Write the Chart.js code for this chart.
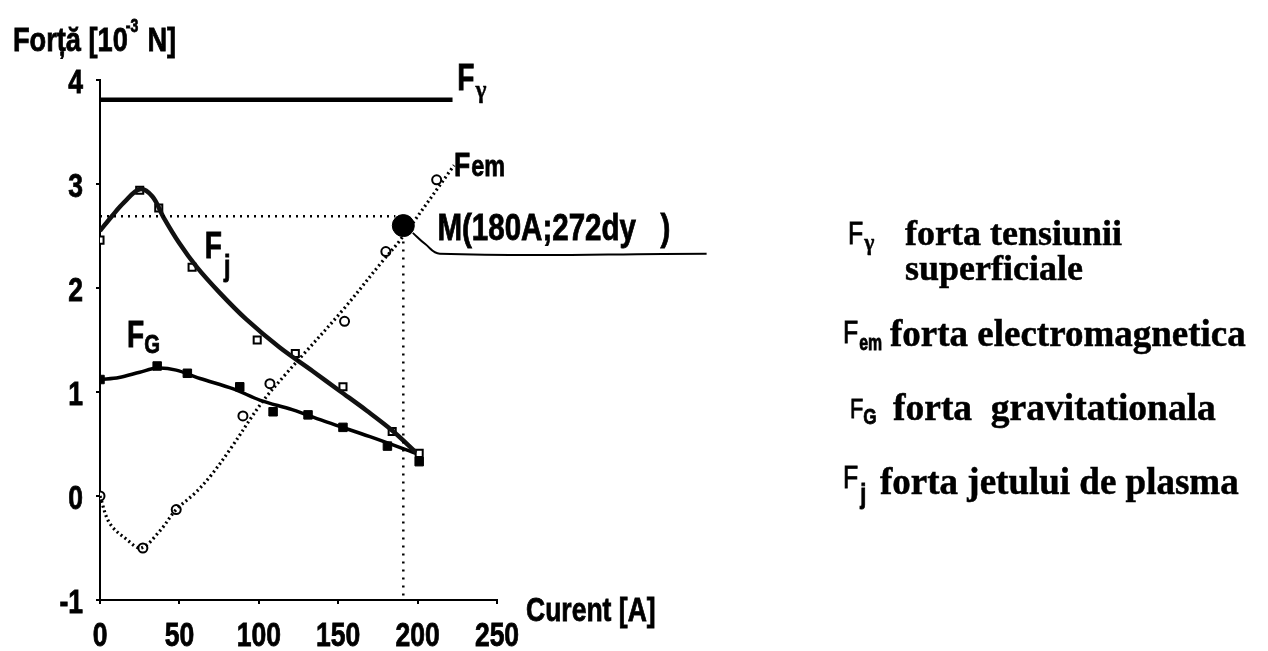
<!DOCTYPE html>
<html><head><meta charset="utf-8">
<script src="https://cdn.jsdelivr.net/npm/chart.js@4"></script>
<style>
html,body{margin:0;padding:0;background:#fff;overflow:hidden}
canvas{display:block}
</style></head>
<body>
<canvas id="c" width="1268" height="651"></canvas>
<script>
// ---------- data ----------
const xTicks = [0, 50, 100, 150, 200, 250];
const yTicks = [-1, 0, 1, 2, 3, 4];
const xTickLabels = ['0', '50', '100', '150', '200', '250'];
const yTickLabels = ['-1', '0', '1', '2', '3', '4'];

// F gamma (surface tension) - constant
const gammaX = [0, 222];
const gammaY = [3.81, 3.81];

// F em (electromagnetic) - measured points and drawn curve
const emX = [0, 27, 48, 90, 107, 154, 180, 212];
const emY = [0, -0.5, -0.13, 0.77, 1.08, 1.68, 2.35, 3.04];
const emCurveX = [0, 6, 17, 26, 38, 48, 60, 70, 82, 102, 118, 128, 153, 178, 189, 223];
const emCurveY = [0, -0.26, -0.42, -0.5, -0.33, -0.13, 0.03, 0.2, 0.45, 0.9, 1.19, 1.36, 1.79, 2.26, 2.46, 3.18];

// F j (plasma jet)
const jX = [0, 25, 37, 58, 99, 123, 153, 184, 201];
const jY = [2.46, 2.94, 2.77, 2.2, 1.5, 1.37, 1.05, 0.62, 0.41];
const jCurveX = [0, 8, 15, 25, 33, 40, 50, 61, 75, 92, 113, 134, 151, 168, 184, 199];
const jCurveY = [2.55, 2.7, 2.82, 2.95, 2.88, 2.68, 2.43, 2.2, 1.96, 1.7, 1.43, 1.2, 1.01, 0.82, 0.63, 0.42];

// F G (gravitational)
const gX = [0, 36, 55, 88, 109, 131, 153, 181, 201];
const gY = [1.12, 1.25, 1.18, 1.05, 0.81, 0.78, 0.66, 0.48, 0.33];
const gCurveX = [0, 12, 25, 36, 48, 63, 84, 101, 121, 143, 170, 199];
const gCurveY = [1.12, 1.14, 1.19, 1.23, 1.21, 1.13, 1.03, 0.92, 0.83, 0.71, 0.57, 0.41];

// point M and its guide lines / callout
const mPointX = [191];
const mPointY = [2.6];
const guideHX = [0, 186];
const guideHY = [2.69, 2.69];
const guideVX = [191, 191];
const guideVY = [2.6, -1];
const calloutX = [197, 205, 214, 382];
const calloutY = [2.53, 2.42, 2.33, 2.33];

// in-chart label anchors (data units)
const labelGamma = [225, 3.9];
const labelEm = [223, 3.08];
const labelJ = [66, 2.29];
const labelG = [17, 1.43];
const labelM = [212.5, 2.46];
const mText = 'M(180A;272dy   )';

// legend texts
const legendTexts = ['forta tensiunii', 'superficiale', 'forta electromagnetica', 'forta  gravitationala', 'forta jetului de plasma'];

// ---------- helpers ----------
const pts = (xs, ys) => xs.map((x, i) => ({x: x, y: ys[i]}));
const SANS = '"Liberation Sans", Arial, sans-serif';
const SERIF = '"Liberation Serif", "Times New Roman", serif';

function narrow(ctx, text, x, y, size, align, sx, weight) {
  sx = sx || 0.78;
  ctx.save();
  ctx.font = (weight || 'bold') + ' ' + size + 'px ' + SANS;
  const w = ctx.measureText(text).width * sx;
  let x0 = x;
  if (align === 'center') x0 = x - w / 2;
  else if (align === 'right') x0 = x - w;
  ctx.translate(x0, y);
  ctx.scale(sx, 1);
  ctx.textAlign = 'left';
  ctx.textBaseline = 'alphabetic';
  ctx.fillStyle = '#000';
  ctx.strokeStyle = '#000';
  ctx.lineWidth = 0.8;
  ctx.fillText(text, 0, 0);
  ctx.strokeText(text, 0, 0);
  ctx.restore();
  return w;
}
function serif(ctx, text, x, y, size, sx) {
  sx = sx || 1;
  ctx.save();
  ctx.font = 'bold ' + size + 'px ' + SERIF;
  ctx.translate(x, y);
  ctx.scale(sx, 1);
  ctx.textAlign = 'left';
  ctx.textBaseline = 'alphabetic';
  ctx.fillStyle = '#000';
  ctx.strokeStyle = '#000';
  ctx.lineWidth = 0.5;
  ctx.fillText(text, 0, 0);
  ctx.strokeText(text, 0, 0);
  ctx.restore();
}

const textPlugin = {
  id: 'texts',
  afterDraw(chart) {
    const ctx = chart.ctx;
    const xs = chart.scales.x, ys = chart.scales.y;
    const px = v => xs.getPixelForValue(v), py = v => ys.getPixelForValue(v);

    // tick labels
    xTicks.forEach((v, i) => narrow(ctx, xTickLabels[i], px(v), 646, 34, 'center'));
    yTicks.forEach((v, i) => narrow(ctx, yTickLabels[i], 83, py(v) + 13, 34, 'right'));

    // axis titles
    let x = 13;
    x += narrow(ctx, 'Forță [10', x, 51, 34, 'left', 0.8);
    narrow(ctx, '-3', x - 2, 32, 18, 'left');
    x += 12;
    narrow(ctx, ' N]', x, 51, 34, 'left', 0.8);
    narrow(ctx, 'Curent [A]', 526, 621, 34, 'left');

    // series labels
    let w;
    w = narrow(ctx, 'F', px(labelGamma[0]), py(labelGamma[1]), 36, 'left');
    serif(ctx, 'γ', px(labelGamma[0]) + w + 1, py(labelGamma[1]) + 8, 26, 0.9);

    w = narrow(ctx, 'F', px(labelEm[0]), py(labelEm[1]), 34, 'left');
    narrow(ctx, 'em', px(labelEm[0]) + w + 1, py(labelEm[1]), 30, 'left');

    w = narrow(ctx, 'F', px(labelJ[0]), py(labelJ[1]), 36, 'left');
    narrow(ctx, 'j', px(labelJ[0]) + w + 2, py(labelJ[1]) + 18, 30, 'left');

    w = narrow(ctx, 'F', px(labelG[0]), py(labelG[1]), 36, 'left');
    narrow(ctx, 'G', px(labelG[0]) + w, py(labelG[1]) + 6, 26, 'left');

    narrow(ctx, mText, px(labelM[0]), py(labelM[1]), 36, 'left', 0.82);

    // legend
    w = narrow(ctx, 'F', 848, 244, 32, 'left', 0.78, 'normal');
    serif(ctx, 'γ', 848 + w + 1, 250, 24, 0.9);
    serif(ctx, legendTexts[0], 905, 245, 36);
    serif(ctx, legendTexts[1], 905, 280, 36);

    w = narrow(ctx, 'F', 843, 343, 32, 'left', 0.78, 'normal');
    narrow(ctx, 'em', 843 + w + 1, 350, 22, 'left', 0.72);
    serif(ctx, legendTexts[2], 890, 346, 37);

    w = narrow(ctx, 'F', 850, 418, 28, 'left', 0.78, 'normal');
    narrow(ctx, 'G', 850 + w, 424, 22, 'left');
    serif(ctx, legendTexts[3], 893, 420, 37.5);

    w = narrow(ctx, 'F', 843, 488, 32, 'left', 0.78, 'normal');
    narrow(ctx, 'j', 843 + w + 2, 503, 28, 'left');
    serif(ctx, legendTexts[4], 880, 494, 37);
  }
};

const lineBase = {showLine: true, pointRadius: 0, fill: false, borderColor: '#000', tension: 0.35};

new Chart(document.getElementById('c'), {
  type: 'scatter',
  data: {
    datasets: [
      Object.assign({}, lineBase, {label: 'guideH', data: pts(guideHX, guideHY), borderWidth: 2.5, borderDash: [2, 5], tension: 0}),
      Object.assign({}, lineBase, {label: 'guideV', data: pts(guideVX, guideVY), borderWidth: 2.5, borderDash: [2, 6], tension: 0}),
      Object.assign({}, lineBase, {label: 'Fgamma', data: pts(gammaX, gammaY), borderWidth: 4.5, tension: 0}),
      Object.assign({}, lineBase, {label: 'Fem curve', data: pts(emCurveX, emCurveY), borderWidth: 3.2, borderDash: [2, 3]}),
      Object.assign({}, lineBase, {label: 'Fj curve', data: pts(jCurveX, jCurveY), borderWidth: 4.5, borderColor: '#111'}),
      Object.assign({}, lineBase, {label: 'Fj chain', data: pts(jCurveX, jCurveY), borderWidth: 1.2, borderColor: '#fff', borderDash: [2, 3]}),
      Object.assign({}, lineBase, {label: 'FG curve', data: pts(gCurveX, gCurveY), borderWidth: 3.5, borderColor: '#000'}),
      {label: 'Fem', data: pts(emX, emY), showLine: false, pointStyle: 'circle', pointRadius: 4.5, pointBorderWidth: 2, pointBackgroundColor: '#fff', pointBorderColor: '#000'},
      {label: 'Fj', data: pts(jX, jY), showLine: false, pointStyle: 'rect', pointRadius: 5, pointBorderWidth: 2, pointBackgroundColor: '#fff', pointBorderColor: '#000'},
      {label: 'FG', data: pts(gX, gY), showLine: false, pointStyle: 'rect', pointRadius: 6, pointBorderWidth: 1, pointBackgroundColor: '#000', pointBorderColor: '#000'},
      {label: 'M', data: pts(mPointX, mPointY), showLine: false, pointStyle: 'circle', pointRadius: 11, pointBackgroundColor: '#000', pointBorderColor: '#000'},
      Object.assign({}, lineBase, {label: 'callout', data: pts(calloutX, calloutY), borderWidth: 2, tension: 0.4, clip: false})
    ]
  },
  options: {
    responsive: false,
    animation: false,
    devicePixelRatio: 1,
    layout: {padding: {left: 0, top: 80, right: 771, bottom: 0}, autoPadding: false},
    plugins: {legend: {display: false}, tooltip: {enabled: false}},
    scales: {
      x: {
        type: 'linear', min: 0, max: 250,
        afterBuildTicks: s => { s.ticks = xTicks.map(v => ({value: v})); },
        afterFit: s => { s.height = 51; },
        ticks: {display: false},
        grid: {drawOnChartArea: false, drawTicks: true, tickLength: 4, color: '#000', lineWidth: 2},
        border: {display: true, color: '#000', width: 2}
      },
      y: {
        type: 'linear', min: -1, max: 4,
        afterBuildTicks: s => { s.ticks = yTicks.map(v => ({value: v})); },
        afterFit: s => { s.width = 100; },
        ticks: {display: false},
        grid: {drawOnChartArea: false, drawTicks: true, tickLength: 4, color: '#000', lineWidth: 2},
        border: {display: true, color: '#000', width: 2}
      }
    }
  },
  plugins: [textPlugin]
});
</script>
</body></html>
